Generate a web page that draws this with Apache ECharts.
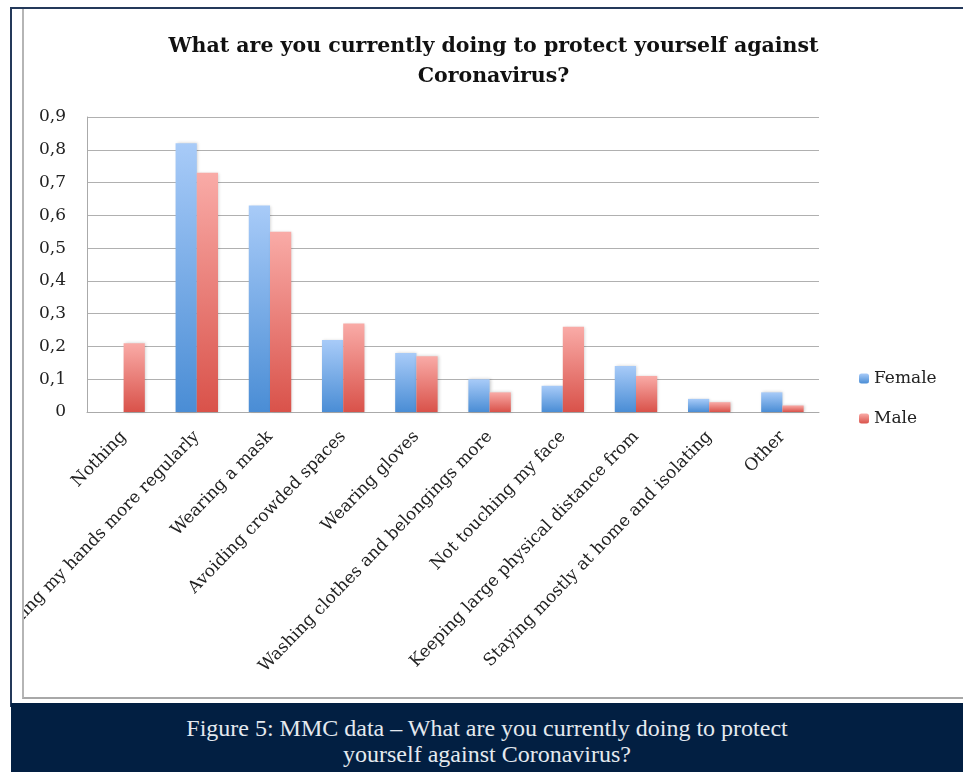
<!DOCTYPE html>
<html>
<head>
<meta charset="utf-8">
<script src="https://cdn.jsdelivr.net/npm/echarts@6/dist/echarts.min.js"></script>
<style>
  html, body { margin: 0; padding: 0; background: #fff; width: 963px; height: 772px; overflow: hidden; }
  #outer { position: absolute; left: 10px; top: 7px; width: 960px; height: 700px; border-top: 2px solid #24395a; border-left: 2px solid #24395a; box-sizing: border-box; }
  #inner { position: absolute; left: 22px; top: 9px; width: 960px; height: 690px; border-left: 2px solid #b5b5b5; border-bottom: 2px solid #a8a8a8; box-sizing: border-box; }
  #chart { position: absolute; left: 24px; top: 9px; width: 939px; height: 688px; }
  #caption { position: absolute; left: 11px; top: 703px; width: 952px; height: 69px; background: #021f42; color: #e4e9ef;
    font-family: "Liberation Serif", serif; font-size: 24px; line-height: 26px; text-align: center; padding-top: 12px; box-sizing: border-box; }
</style>
</head>
<body>
<div id="outer"></div>
<div id="inner"></div>
<div id="chart"></div>
<div id="caption">Figure 5: MMC data – What are you currently doing to protect<br>yourself against Coronavirus?</div>
<script>
const categories = [
  "Nothing",
  "Washing my hands more regularly",
  "Wearing a mask",
  "Avoiding crowded spaces",
  "Wearing gloves",
  "Washing clothes and belongings more",
  "Not touching my face",
  "Keeping large physical distance from",
  "Staying mostly at home and isolating",
  "Other"
];
const female = [0, 0.82, 0.63, 0.22, 0.18, 0.10, 0.08, 0.14, 0.04, 0.06];
const male = [0.21, 0.73, 0.55, 0.27, 0.17, 0.06, 0.26, 0.11, 0.03, 0.02];
const yTicks = [0, 0.1, 0.2, 0.3, 0.4, 0.5, 0.6, 0.7, 0.8, 0.9];

const serif = "DejaVu Serif";
function grad(top, bottom) {
  return new echarts.graphic.LinearGradient(0, 0, 0, 1, [
    { offset: 0, color: top }, { offset: 1, color: bottom }
  ]);
}
const chart = echarts.init(document.getElementById('chart'));
chart.setOption({
  animation: false,
  title: {
    text: "What are you currently doing to protect yourself against\nCoronavirus?",
    left: 'center',
    top: 18,
    textStyle: { fontFamily: serif, fontWeight: 'bold', fontSize: 20.5, lineHeight: 30, color: '#111' }
  },
  legend: {
    orient: 'vertical',
    left: 830,
    top: 356,
    itemWidth: 10,
    itemHeight: 10,
    itemGap: 23,
    textStyle: { fontFamily: serif, fontSize: 17, color: '#222' },
    data: ['Female', 'Male']
  },
  grid: { left: 63, top: 108, right: 144, bottom: 285, containLabel: false, outerBoundsMode: 'none' },
  xAxis: {
    type: 'category',
    data: categories,
    axisTick: { show: false },
    axisLine: { lineStyle: { color: '#aaa', width: 1 } },
    axisLabel: { interval: 0, rotate: 46, margin: 22, fontFamily: serif, fontSize: 17, color: '#222' }
  },
  yAxis: {
    type: 'value',
    min: 0, max: 0.9, interval: 0.1,
    axisLine: { show: true, lineStyle: { color: '#aaa' } },
    axisTick: { show: false },
    splitLine: { lineStyle: { color: '#b0b0b0', width: 1 } },
    axisLabel: {
      margin: 21, fontFamily: serif, fontSize: 17, color: '#222',
      formatter: v => { const t = yTicks.find(x => Math.abs(x - v) < 1e-6); return (t === 0 ? '0' : t.toFixed(1).replace('.', ',')); }
    }
  },
  series: [
    { name: 'Female', type: 'bar', data: female, barGap: '0%', barCategoryGap: '42%',
      itemStyle: { color: grad('#a8cbf8', '#4a8dd5'), shadowBlur: 3, shadowColor: 'rgba(0,0,0,0.2)', shadowOffsetX: 1 } },
    { name: 'Male', type: 'bar', data: male,
      itemStyle: { color: grad('#f9aba7', '#d9524a'), shadowBlur: 3, shadowColor: 'rgba(0,0,0,0.2)', shadowOffsetX: 1 } }
  ]
});
</script>
</body>
</html>
